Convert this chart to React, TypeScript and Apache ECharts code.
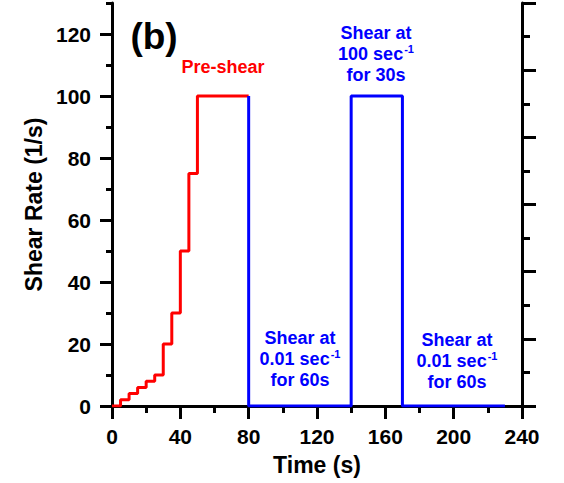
import React, { useEffect, useRef } from 'react';
import * as echarts from 'echarts';

// Step protocol values: [time (s), shear rate (1/s)]
const preShearTimes = [0, 5, 10, 15, 20, 25, 30, 35, 40, 45, 50, 80];
const preShearRates = [0, 2, 4, 6, 8, 10, 20, 30, 50, 75, 100, 100];
const protocolTimes = [80, 80, 140, 140, 170, 170, 230];
const protocolRates = [100, 0, 0, 100, 100, 0, 0];

const yMajorTicks = [0, 20, 40, 60, 80, 100, 120];
const yMinorTicks = [10, 30, 50, 70, 90, 110, 130];

const FONT = '"Liberation Sans", Arial, Helvetica, sans-serif';
const RED = '#ff0000';
const BLUE = '#0000ff';

const preShear = preShearTimes.map((t, i) => [t, preShearRates[i]]);
const protocol = protocolTimes.map((t, i) => [t, protocolRates[i]]);

const lineBlack = { color: '#000', width: 3 };

function blueRich() {
  return {
    a: { fontFamily: FONT, fontWeight: 'bold', fontSize: 18, fill: BLUE, color: BLUE, lineHeight: 21 },
    s: { fontFamily: FONT, fontWeight: 'bold', fontSize: 11, fill: BLUE, color: BLUE, lineHeight: 21, padding: [0, 0, 10, 1] },
  };
}

export default function App() {
  const ref = useRef<HTMLDivElement>(null);
  useEffect(() => {
    if (!ref.current) return;
    const chart = echarts.init(ref.current, undefined, { renderer: 'svg' });
    chart.setOption({
      animation: false,
      backgroundColor: '#fff',
      grid: { left: 112, right: 42, top: 3, bottom: 77, containLabel: false },
      xAxis: [
        {
          type: 'value', min: 0, max: 240, interval: 40, position: 'bottom',
          axisLine: { show: true, lineStyle: lineBlack },
          axisTick: { show: true, length: 13, lineStyle: lineBlack },
          minorTick: { show: true, splitNumber: 2, length: 7, lineStyle: lineBlack },
          splitLine: { show: false }, minorSplitLine: { show: false },
          axisLabel: { margin: 20, fontSize: 21, fontWeight: 'bold', color: '#000', fontFamily: FONT },
          name: 'Time (s)', nameLocation: 'middle', nameGap: 47,
          nameTextStyle: { fontSize: 23, fontWeight: 'bold', color: '#000', fontFamily: FONT },
        },
        {
          type: 'value', min: 0, max: 240, position: 'top',
          axisLine: { show: true, lineStyle: lineBlack },
          axisTick: { show: false }, axisLabel: { show: false }, splitLine: { show: false },
        },
      ],
      yAxis: [
        {
          type: 'value', min: 0, max: 130, interval: 20, position: 'left',
          axisLine: { show: true, lineStyle: lineBlack },
          axisTick: { show: true, length: 12, lineStyle: lineBlack, customValues: yMajorTicks },
          axisLabel: { margin: 21, fontSize: 21, fontWeight: 'bold', color: '#000', fontFamily: FONT, customValues: yMajorTicks },
          splitLine: { show: false },
          name: 'Shear Rate (1/s)', nameLocation: 'middle', nameGap: 60,
          nameTextStyle: { fontSize: 23, fontWeight: 'bold', color: '#000', fontFamily: FONT },
        },
        {
          type: 'value', min: 0, max: 130, interval: 10, position: 'left',
          axisLine: { show: false },
          axisTick: { show: true, length: 6, lineStyle: lineBlack, customValues: yMinorTicks },
          axisLabel: { show: false }, splitLine: { show: false },
        },
        {
          type: 'value', min: 0, max: 12, interval: 2, position: 'right',
          axisLine: { show: true, lineStyle: lineBlack },
          axisTick: { show: true, length: 14, lineStyle: lineBlack },
          minorTick: { show: true, splitNumber: 2, length: 8, lineStyle: lineBlack },
          axisLabel: { show: false }, splitLine: { show: false }, minorSplitLine: { show: false },
        },
      ],
      series: [
        {
          type: 'line', name: 'Pre-shear', data: preShear, step: 'end',
          xAxisIndex: 0, yAxisIndex: 0, showSymbol: false, symbol: 'none', z: 5,
          lineStyle: { color: RED, width: 3 }, itemStyle: { color: RED },
        },
        {
          type: 'line', name: 'Protocol', data: protocol,
          xAxisIndex: 0, yAxisIndex: 0, showSymbol: false, symbol: 'none', z: 6,
          lineStyle: { color: BLUE, width: 3 }, itemStyle: { color: BLUE },
        },
      ],
      graphic: [
        {
          type: 'text', x: 154, y: 36, z: 10,
          style: { text: '(b)', fontFamily: FONT, fontWeight: 'bold', fontSize: 37, fill: '#000',
            textAlign: 'center', textVerticalAlign: 'middle', align: 'center', verticalAlign: 'middle' },
        },
        {
          type: 'text', x: 223, y: 67, z: 10,
          style: { text: 'Pre-shear', fontFamily: FONT, fontWeight: 'bold', fontSize: 18, fill: RED,
            textAlign: 'center', textVerticalAlign: 'middle', align: 'center', verticalAlign: 'middle' },
        },
        {
          type: 'text', x: 376, y: 54, z: 10,
          style: { text: '{a|Shear at}\n{a|100 sec}{s|-1}\n{a|for 30s}', rich: blueRich(),
            textAlign: 'center', textVerticalAlign: 'middle', align: 'center', verticalAlign: 'middle' },
        },
        {
          type: 'text', x: 300, y: 359, z: 10,
          style: { text: '{a|Shear at}\n{a|0.01 sec}{s|-1}\n{a|for 60s}', rich: blueRich(),
            textAlign: 'center', textVerticalAlign: 'middle', align: 'center', verticalAlign: 'middle' },
        },
        {
          type: 'text', x: 457, y: 361, z: 10,
          style: { text: '{a|Shear at}\n{a|0.01 sec}{s|-1}\n{a|for 60s}', rich: blueRich(),
            textAlign: 'center', textVerticalAlign: 'middle', align: 'center', verticalAlign: 'middle' },
        },
      ],
    });
    return () => chart.dispose();
  }, []);
  return (
    <div
      ref={ref}
      style={{ position: 'fixed', left: 0, top: 0, width: 564, height: 483, background: '#fff' }}
    />
  );
}
